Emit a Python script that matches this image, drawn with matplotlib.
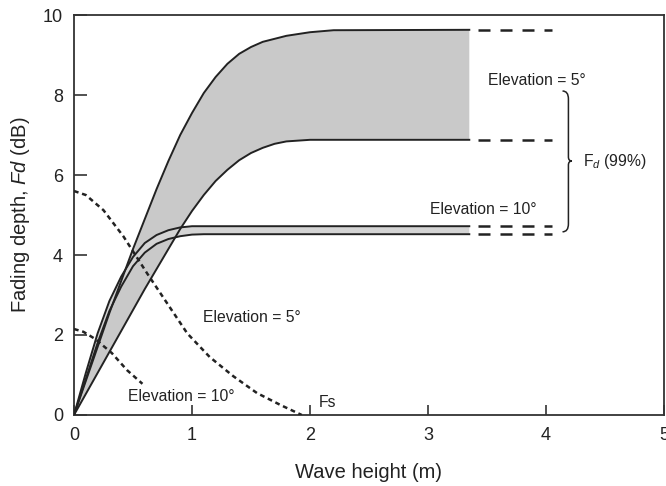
import matplotlib
matplotlib.use("Agg")
import matplotlib.pyplot as plt
from matplotlib.path import Path
from matplotlib.patches import PathPatch

plt.rcParams["font.family"] = ["Liberation Sans", "DejaVu Sans"]
plt.rcParams["mathtext.fontset"] = "custom"
plt.rcParams["mathtext.rm"] = "Liberation Sans"
plt.rcParams["mathtext.it"] = "Liberation Sans:italic"

# fading depth curves, 5 deg elevation (upper / lower edge of band)
elev5_hi_x = [0, 0.1, 0.2, 0.3, 0.4, 0.5, 0.6, 0.7, 0.8, 0.9, 1.0, 1.1, 1.2, 1.3, 1.4, 1.5, 1.6, 1.8, 2.0, 2.2, 3.35]
elev5_hi_y = [0, 0.85, 1.7, 2.55, 3.35, 4.15, 4.9, 5.65, 6.35, 7.0, 7.55, 8.05, 8.45, 8.78, 9.03, 9.2, 9.33, 9.48, 9.57, 9.62, 9.63]
elev5_lo_x = [0, 0.2, 0.4, 0.6, 0.8, 0.9, 1.0, 1.1, 1.2, 1.3, 1.4, 1.5, 1.6, 1.7, 1.8, 2.0, 3.35]
elev5_lo_y = [0, 1.05, 2.1, 3.15, 4.15, 4.65, 5.1, 5.5, 5.85, 6.13, 6.37, 6.55, 6.68, 6.78, 6.84, 6.88, 6.88]

# fading depth curves, 10 deg elevation
elev10_hi_x = [0, 0.1, 0.2, 0.3, 0.4, 0.5, 0.6, 0.7, 0.8, 0.9, 1.0, 3.35]
elev10_hi_y = [0, 1.05, 2.04, 2.85, 3.46, 3.95, 4.3, 4.5, 4.62, 4.69, 4.72, 4.72]
elev10_lo_x = [0, 0.1, 0.2, 0.3, 0.4, 0.5, 0.6, 0.7, 0.8, 0.9, 1.0, 1.1, 3.35]
elev10_lo_y = [0, 0.9, 1.8, 2.6, 3.21, 3.72, 4.06, 4.28, 4.4, 4.47, 4.51, 4.52, 4.52]

# Fs (dotted) curves
fs5_x = [0, 0.1, 0.25, 0.42, 0.62, 0.79, 0.96, 1.15, 1.35, 1.55, 1.75, 1.93]
fs5_y = [5.6, 5.5, 5.12, 4.46, 3.54, 2.79, 2.04, 1.45, 0.97, 0.55, 0.25, 0.0]
fs10_x = [0, 0.08, 0.18, 0.32, 0.45, 0.58]
fs10_y = [2.15, 2.08, 1.9, 1.55, 1.12, 0.78]

# dashed continuation of the plateaus
dash_x = [3.42, 4.05]

xticks = [0, 1, 2, 3, 4, 5]
yticks = [0, 2, 4, 6, 8, 10]

ink = "#222222"

fig = plt.figure(figsize=(6.66, 4.86), dpi=100)
ax = fig.add_axes([0.1111, 0.1461, 0.8859, 0.823])

# shaded bands
ax.fill(elev5_hi_x + elev5_lo_x[::-1], elev5_hi_y + elev5_lo_y[::-1],
        color="#c9c9c9", lw=0, zorder=1)
ax.fill(elev10_hi_x + elev10_lo_x[::-1], elev10_hi_y + elev10_lo_y[::-1],
        color="#d4d4d4", lw=0, zorder=1)

for xs, ys in [(elev5_hi_x, elev5_hi_y), (elev5_lo_x, elev5_lo_y),
               (elev10_hi_x, elev10_hi_y), (elev10_lo_x, elev10_lo_y)]:
    ax.plot(xs, ys, color=ink, lw=1.4, zorder=3)
    ax.plot(dash_x, [ys[-1], ys[-1]], color=ink, lw=1.8,
            linestyle=(0, (4.8, 4.0)), zorder=3)

dot = (0, (1.9, 1.5))
ax.plot(fs5_x, fs5_y, color=ink, lw=1.8, linestyle=dot, zorder=3)
ax.plot(fs10_x, fs10_y, color=ink, lw=1.8, linestyle=dot, zorder=3)

# brace for F_d(99%)
b_top, b_bot, b_mid = 8.1, 4.58, 6.35
x0, x1, x2 = 4.14, 4.19, 4.22
verts = [(x0, b_top), (x1, b_top), (x1, b_top - 0.2),
         (x1, b_mid + 0.1), (x1, b_mid), (x2, b_mid),
         (x1, b_mid), (x1, b_mid - 0.1),
         (x1, b_bot + 0.2), (x1, b_bot), (x0, b_bot)]
codes = [Path.MOVETO, Path.CURVE3, Path.CURVE3,
         Path.LINETO, Path.CURVE3, Path.CURVE3,
         Path.CURVE3, Path.CURVE3,
         Path.LINETO, Path.CURVE3, Path.CURVE3]
ax.add_patch(PathPatch(Path(verts, codes), fill=False, ec=ink, lw=1.1, zorder=3))

tkw = dict(fontsize=11.3, color=ink, ha="center", va="center")
ax.text(3.92, 8.37, "Elevation = 5°", **tkw)
ax.text(3.47, 5.13, "Elevation = 10°", **tkw)
ax.text(1.51, 2.43, "Elevation = 5°", **tkw)
ax.text(0.91, 0.45, "Elevation = 10°", **tkw)
ax.text(2.07, 0.3, "Fs", fontsize=11.3, color=ink, ha="left", va="center")
ax.text(4.31, 6.33, r"F$_{\mathit{d}}$ (99%)", fontsize=11.3, color=ink,
        ha="left", va="center")

ax.set_xlim(0, 5)
ax.set_ylim(0, 10)
ax.set_xticks(xticks)
ax.set_yticks(yticks)
ax.tick_params(axis="both", direction="in", width=1.1, colors=ink, labelsize=13)
ax.tick_params(axis="x", length=7, pad=9)
ax.tick_params(axis="y", length=9.5, pad=8)
for s in ax.spines.values():
    s.set_linewidth(1.3)
    s.set_color("#333333")

ax.set_xlabel("Wave height (m)", fontsize=14.5, color=ink, labelpad=13)
ax.set_ylabel(r"Fading depth, $\mathit{Fd}$ (dB)", fontsize=14.5, color=ink, labelpad=8)

fig.savefig("out.png", dpi=100)
